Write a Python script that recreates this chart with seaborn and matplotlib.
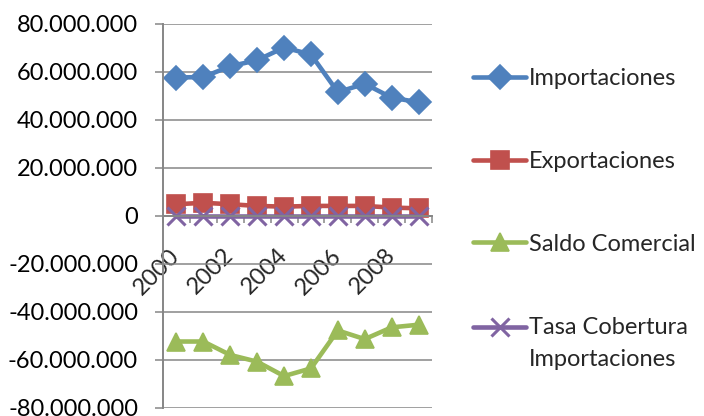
import matplotlib
matplotlib.use("Agg")
import matplotlib.pyplot as plt
from matplotlib.ticker import FuncFormatter, FixedLocator
from matplotlib.legend_handler import HandlerLine2D
import seaborn as sns
import numpy as np
import pandas as pd

# Comercio exterior 2000-2009
years = [2000, 2001, 2002, 2003, 2004, 2005, 2006, 2007, 2008, 2009]
importaciones = [57.7e6, 57.9e6, 62.4e6, 64.9e6, 70.2e6, 67.3e6, 51.6e6, 55.1e6, 49.3e6, 47.4e6]
exportaciones = [4.9e6, 5.5e6, 4.9e6, 4.2e6, 3.9e6, 4.2e6, 4.2e6, 4.2e6, 3.5e6, 3.2e6]
saldo_comercial = [-52.3e6, -52.3e6, -57.9e6, -60.7e6, -66.7e6, -63.5e6, -47.7e6, -51.3e6, -46.4e6, -45.3e6]
tasa_cobertura = [0.085, 0.095, 0.079, 0.065, 0.056, 0.062, 0.081, 0.076, 0.071, 0.068]

year_labels = ["2000", "2002", "2004", "2006", "2008"]
y_ticks = [-80e6, -60e6, -40e6, -20e6, 0, 20e6, 40e6, 60e6, 80e6]

series = [
    ("Importaciones", importaciones, "#4F81BD", "D", 12.5),
    ("Exportaciones", exportaciones, "#C0504D", "s", 12.5),
    ("Saldo Comercial", saldo_comercial, "#9BBB59", "^", 13.5),
    ("Tasa Cobertura\nImportaciones", tasa_cobertura, "#8064A2", "x", 12.5),
]


class ShiftedLineHandler(HandlerLine2D):
    """Line handler whose sample is raised to sit beside the first label line."""

    def __init__(self, dy, **kw):
        super().__init__(**kw)
        self.dy = dy

    def create_artists(self, legend, orig_handle, xdescent, ydescent, width,
                       height, fontsize, trans):
        arts = super().create_artists(legend, orig_handle, xdescent, ydescent,
                                      width, height, fontsize, trans)
        for a in arts:
            a.set_ydata(np.asarray(a.get_ydata(), dtype=float) + self.dy)
        return arts


sns.set_style("white")
plt.rcParams["font.family"] = ["Lato", "DejaVu Sans"]
plt.rcParams["font.size"] = 17

fig = plt.figure(figsize=(7.04, 4.16), dpi=100)
ax = fig.add_axes([163 / 704, 1 - 408 / 416, (432 - 163) / 704, (408 - 24) / 416])

pos = np.arange(len(years))
for name, vals, color, marker, ms in series:
    df = pd.DataFrame({"pos": pos, "valor": vals})
    sns.lineplot(data=df, x="pos", y="valor", ax=ax, color=color, linewidth=3.3,
                 marker=marker, markersize=ms, markeredgecolor=color,
                 markeredgewidth=1.2 if marker != "x" else 2.2, label=name)

grid_color = "#868686"
ax.set_xlim(-0.5, len(years) - 0.5)
ax.set_ylim(-80e6, 80e6)
ax.set_yticks(y_ticks)
ax.yaxis.set_major_formatter(FuncFormatter(lambda v, p: f"{int(round(v)):,}".replace(",", ".")))
ax.yaxis.grid(True, color=grid_color, linewidth=1.1)
ax.set_axisbelow(True)
ax.tick_params(axis="y", direction="out", length=6, width=1.1, color=grid_color,
               pad=12, labelsize=17, labelcolor="black", left=True)

# category axis crossing at zero
ax.spines["bottom"].set_position(("data", 0))
for s in ["top", "right"]:
    ax.spines[s].set_visible(False)
for s in ["left", "bottom"]:
    ax.spines[s].set_color(grid_color)
    ax.spines[s].set_linewidth(1.4)
ax.xaxis.set_major_locator(FixedLocator(np.arange(-0.5, len(years), 1.0)))
ax.xaxis.set_major_formatter(FuncFormatter(lambda v, p: ""))
ax.tick_params(axis="x", which="major", direction="out", length=5, width=1.1,
               color=grid_color, bottom=True)
ax.xaxis.set_minor_locator(FixedLocator([0, 2, 4, 6, 8]))
ax.set_xticklabels(year_labels, minor=True)
ax.tick_params(axis="x", which="minor", length=0, pad=26, labelsize=17)
for lab in ax.get_xticklabels(minor=True):
    lab.set_rotation(45)
    lab.set_rotation_mode("anchor")
    lab.set_ha("right")
    lab.set_va("center")
ax.set_xlabel("")
ax.set_ylabel("")

handles, labels = ax.get_legend_handles_labels()
ax.get_legend().remove()
leg = fig.legend(handles, labels, loc="upper left", bbox_to_anchor=(473 / 704, 1 - 68 / 416),
                 frameon=False, fontsize=17, handlelength=2.25, handletextpad=0.12,
                 labelspacing=2.62, borderpad=0, borderaxespad=0, numpoints=1,
                 handler_map={handles[3]: ShiftedLineHandler(12.0)})
leg.get_texts()[3].set_linespacing(1.65)

fig.savefig("out.png", dpi=100)
